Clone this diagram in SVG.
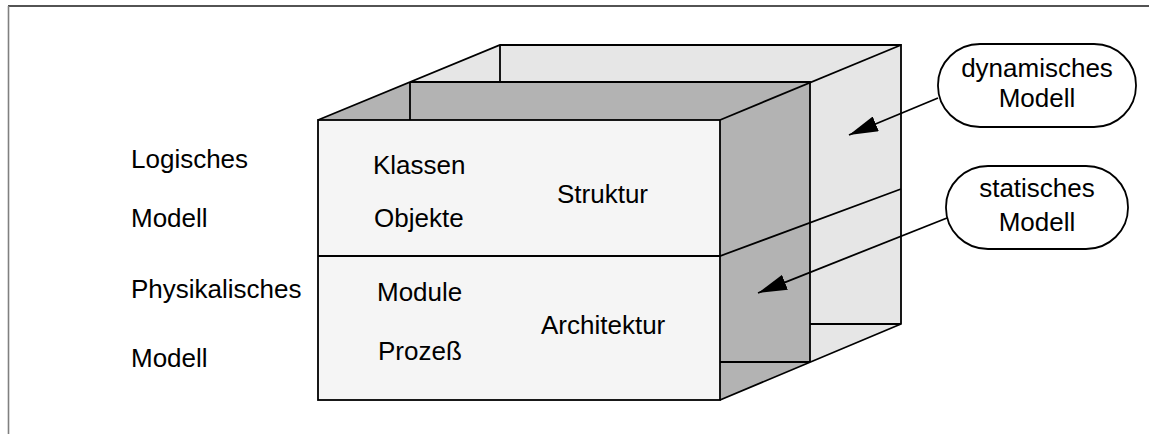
<svg xmlns="http://www.w3.org/2000/svg" width="1149" height="434" viewBox="0 0 1149 434">
  <style>
    .edge { fill: none; stroke: #000; stroke-width: 1.8; stroke-linejoin: miter; }
    .front { fill: #f5f5f5; }
    .dark { fill: #b3b3b3; }
    .light { fill: #e6e6e6; }
    .lbl { font-family: "Liberation Sans", Arial, Helvetica, sans-serif; font-size: 26px; fill: #000; }
    .mid { text-anchor: middle; }
    .callout { fill: #fff; stroke: #000; stroke-width: 1.8; }
    .conn { fill: none; stroke: #000; stroke-width: 1.8; }
  </style>
  <defs>
    <marker id="arrow" markerUnits="userSpaceOnUse" markerWidth="30" markerHeight="16" refX="29" refY="8" orient="auto" viewBox="0 0 30 16">
      <path d="M0,0 L29,8 L0,16 z" fill="#000"/>
    </marker>
  </defs>

  <rect width="1149" height="434" fill="#fff"/>

  <!-- page frame -->
  <g id="frame">
    <line x1="8" y1="6" x2="1149" y2="6" stroke="#1a1a1a" stroke-width="1.6"/>
    <line x1="8.5" y1="6" x2="8.5" y2="434" stroke="#808080" stroke-width="1.6"/>
  </g>

  <!-- three-layer model box -->
  <g id="cube">
    <polygon class="light" points="410,82 500,45 901,45 810,82"/>
    <polygon class="light" points="810,82 901,45 901,324 810,362"/>
    <polygon class="dark" points="318,120 410,82 810,82 720,120"/>
    <polygon class="dark" points="720,120 810,82 810,362 720,400"/>
    <rect class="front" x="318" y="120" width="402" height="280"/>

    <path class="edge" d="M318,120 L500,45 L901,45 L901,324 L720,400"/>
    <path class="edge" d="M720,120 L901,45"/>
    <path class="edge" d="M410,82 L410,120 M500,45 L500,82"/>
    <path class="edge" d="M410,82 L810,82 L810,362"/>
    <path class="edge" d="M810,324 L901,324 M720,362 L810,362"/>
    <path class="edge" d="M318,256 L720,256 L901,189"/>
    <rect class="edge" x="318" y="120" width="402" height="280"/>
  </g>

  <!-- row labels on the left -->
  <g id="label-logisch">
    <text class="lbl" x="131" y="168">Logisches</text>
    <text class="lbl" x="131" y="227">Modell</text>
  </g>
  <g id="label-physikalisch">
    <text class="lbl" x="131" y="298">Physikalisches</text>
    <text class="lbl" x="131" y="367">Modell</text>
  </g>

  <!-- upper layer: Struktur -->
  <g id="layer-struktur">
    <text class="lbl" x="373" y="174">Klassen</text>
    <text class="lbl" x="374" y="227">Objekte</text>
    <text class="lbl" x="557" y="203">Struktur</text>
  </g>

  <!-- lower layer: Architektur -->
  <g id="layer-architektur">
    <text class="lbl" x="377" y="301">Module</text>
    <text class="lbl" x="378" y="360">Prozeß</text>
    <text class="lbl" x="541" y="334">Architektur</text>
  </g>

  <!-- callouts -->
  <g id="callout-dynamisch">
    <rect class="callout" x="938" y="44" width="198" height="83" rx="42" ry="41"/>
    <text class="lbl mid" x="1037" y="77">dynamisches</text>
    <text class="lbl mid" x="1037" y="107">Modell</text>
  </g>
  <g id="callout-statisch">
    <rect class="callout" x="946" y="166" width="182" height="83" rx="42" ry="41"/>
    <text class="lbl mid" x="1037" y="197">statisches</text>
    <text class="lbl mid" x="1037" y="231">Modell</text>
  </g>

  <!-- connectors -->
  <g id="connectors">
    <line class="conn" x1="938" y1="98" x2="849" y2="135" marker-end="url(#arrow)"/>
    <line class="conn" x1="947" y1="218" x2="758" y2="293" marker-end="url(#arrow)"/>
  </g>
</svg>
